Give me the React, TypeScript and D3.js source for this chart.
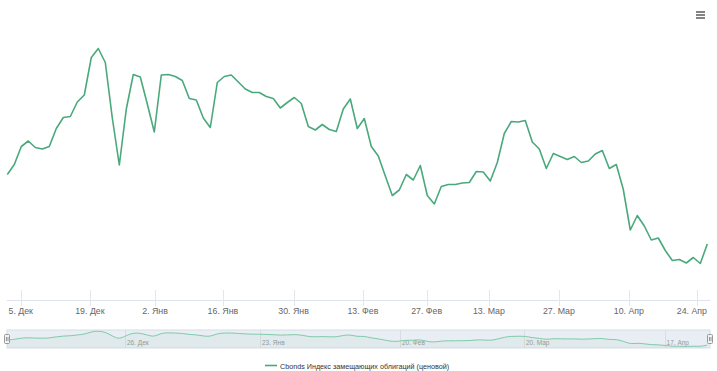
import { useEffect, useRef } from 'react';
import * as d3 from 'd3';

// Cbonds index, daily closes (trading days)
const values: number[] = [
  98.51, 98.71, 99.07, 99.18, 99.05, 99.02, 99.07, 99.43, 99.65, 99.67,
  99.96, 100.10, 100.85, 101.03, 100.75, 99.64, 98.70, 99.82, 100.51, 100.46,
  99.92, 99.36, 100.50, 100.51, 100.47, 100.39, 100.03, 100.00, 99.64, 99.45,
  100.35, 100.47, 100.50, 100.36, 100.22, 100.15, 100.15, 100.07, 100.03, 99.84,
  99.95, 100.05, 99.93, 99.47, 99.40, 99.51, 99.41, 99.37, 99.82, 100.02,
  99.43, 99.63, 99.07, 98.88, 98.48, 98.09, 98.20, 98.51, 98.40, 98.69,
  98.09, 97.92, 98.27, 98.31, 98.31, 98.34, 98.35, 98.57, 98.56, 98.38,
  98.75, 99.33, 99.57, 99.56, 99.59, 99.16, 99.02, 98.63, 98.93, 98.87,
  98.81, 98.87, 98.75, 98.78, 98.92, 98.99, 98.63, 98.71, 98.21, 97.40,
  97.69, 97.48, 97.20, 97.24, 96.99, 96.79, 96.81, 96.74, 96.85, 96.73,
  97.12,
];

// x-axis ticks (position in trading-day index, ordinal axis)
const tickLabels = ['5. Дек', '19. Дек', '2. Янв', '16. Янв', '30. Янв', '13. Фев', '27. Фев', '13. Мар', '27. Мар', '10. Апр', '24. Апр'];
const tickIndex = [1.92, 11.8, 21.1, 30.8, 40.9, 50.8, 59.9, 68.8, 78.8, 88.8, 98.5];

// navigator ticks
const navLabels = ['26. Дек', '23. Янв', '20. Фев', '20. Мар', '17. Апр'];
const navIndex = [16.8, 36.1, 56.1, 73.8, 93.9];

const seriesName = 'Cbonds Индекс замещающих облигаций (ценовой)';

const W = 717;
const H = 371;
const FONT = '"Liberation Sans", Arial, sans-serif';
const LINE = '#4aa97c';

const App = () => {
  const svgRef = useRef<SVGSVGElement>(null);

  useEffect(() => {
    if (!svgRef.current) return;
    const svg = d3.select(svgRef.current);
    svg.selectAll('*').remove();

    const x = d3.scaleLinear().domain([0, values.length - 1]).range([7.3, 707.3]);
    const y = d3.scaleLinear().domain([96, 102]).range([300, 0]);

    // axis line + ticks
    svg.append('line')
      .attr('x1', 7).attr('x2', 710)
      .attr('y1', 300.5).attr('y2', 300.5)
      .attr('stroke', '#dde4f0').attr('stroke-width', 1);

    svg.selectAll('.tick')
      .data(tickIndex)
      .enter()
      .append('line')
      .attr('x1', d => Math.round(x(d)) + 0.5)
      .attr('x2', d => Math.round(x(d)) + 0.5)
      .attr('y1', 290)
      .attr('y2', 306)
      .attr('stroke', '#e6e6e6');

    const labels = svg.selectAll<SVGTextElement, number>('.tick-label')
      .data(tickIndex)
      .enter()
      .append('text')
      .attr('class', 'tick-label')
      .attr('x', d => x(d))
      .attr('y', 314)
      .attr('text-anchor', 'middle')
      .attr('fill', '#666666')
      .attr('font-family', FONT)
      .attr('font-size', '8.8px')
      .text((_, i) => tickLabels[i]);

    // keep labels inside the chart, like the original does with the last one
    labels.each(function (d) {
      const half = this.getComputedTextLength() / 2;
      const cx = x(d);
      if (cx + half > 707) d3.select(this).attr('x', 707 - half);
      if (cx - half < 8) d3.select(this).attr('x', 8 + half);
    });

    // main series
    const line = d3.line<number>()
      .x((_, i) => x(i))
      .y(d => y(d));

    svg.append('path')
      .datum(values)
      .attr('d', line)
      .attr('fill', 'none')
      .attr('stroke', LINE)
      .attr('stroke-width', 1.6)
      .attr('stroke-linejoin', 'round');

    // navigator
    const navTop = 330;
    const navBottom = 348;
    svg.append('rect')
      .attr('x', 7).attr('y', navTop)
      .attr('width', 703).attr('height', navBottom - navTop)
      .attr('fill', '#e8eef3')
      .attr('stroke', '#d5dde5')
      .attr('stroke-width', 1);

    svg.selectAll('.nav-grid')
      .data(navIndex)
      .enter()
      .append('line')
      .attr('x1', d => Math.round(x(d)) + 0.5)
      .attr('x2', d => Math.round(x(d)) + 0.5)
      .attr('y1', navTop)
      .attr('y2', navBottom)
      .attr('stroke', '#d8dde3');

    svg.selectAll('.nav-label')
      .data(navIndex)
      .enter()
      .append('text')
      .attr('x', d => x(d) + 2)
      .attr('y', 345)
      .attr('fill', '#999999')
      .attr('font-family', FONT)
      .attr('font-size', '6.5px')
      .text((_, i) => navLabels[i]);

    const [vMin, vMax] = d3.extent(values) as [number, number];
    const yNav = d3.scaleLinear().domain([vMin, vMax]).range([346.5, 331]);

    const navArea = d3.area<number>()
      .x((_, i) => x(i))
      .y0(navBottom)
      .y1(d => yNav(d))
      .curve(d3.curveBasis);

    svg.append('path')
      .datum(values)
      .attr('d', navArea)
      .attr('fill', LINE)
      .attr('fill-opacity', 0.05);

    const navLine = d3.line<number>()
      .x((_, i) => x(i))
      .y(d => yNav(d))
      .curve(d3.curveBasis);

    svg.append('path')
      .datum(values)
      .attr('d', navLine)
      .attr('fill', 'none')
      .attr('stroke', '#7fcaa8')
      .attr('stroke-width', 1);

    // handles
    [7, 710].forEach(hx => {
      const g = svg.append('g').attr('transform', `translate(${hx},0)`);
      g.append('rect')
        .attr('x', -2.5).attr('y', 334.5)
        .attr('width', 5).attr('height', 9)
        .attr('rx', 1)
        .attr('fill', '#f2f2f2')
        .attr('stroke', '#999999')
        .attr('stroke-width', 1);
      g.append('line')
        .attr('x1', -0.5).attr('x2', -0.5)
        .attr('y1', 337).attr('y2', 341)
        .attr('stroke', '#999999');
      g.append('line')
        .attr('x1', 1).attr('x2', 1)
        .attr('y1', 337).attr('y2', 341)
        .attr('stroke', '#999999');
    });

    // legend
    svg.append('line')
      .attr('x1', 265).attr('x2', 277)
      .attr('y1', 365.5).attr('y2', 365.5)
      .attr('stroke', LINE)
      .attr('stroke-width', 1.6);

    svg.append('text')
      .attr('x', 280)
      .attr('y', 368.5)
      .attr('fill', '#333333')
      .attr('font-family', FONT)
      .attr('font-size', '7.2px')
      .text(seriesName);

    // context menu icon
    [12, 15, 18].forEach(ly => {
      svg.append('line')
        .attr('x1', 696).attr('x2', 705)
        .attr('y1', ly).attr('y2', ly)
        .attr('stroke', '#666666')
        .attr('stroke-width', 1.6);
    });
  }, []);

  return (
    <svg
      ref={svgRef}
      width={W}
      height={H}
      style={{ position: 'absolute', left: 0, top: 0, background: '#ffffff' }}
    />
  );
};

export default App;
